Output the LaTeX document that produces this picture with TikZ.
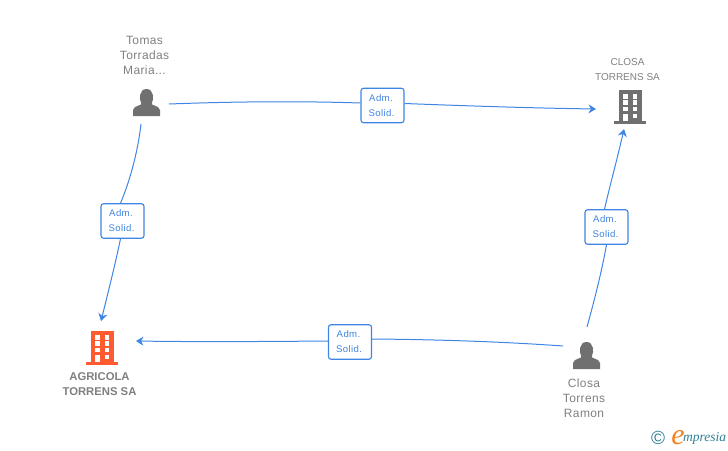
\documentclass[tikz,border=0pt]{standalone}
\usepackage{fontspec}
\setmainfont{Liberation Sans}
\newfontfamily\logofont{Liberation Serif}
\usetikzlibrary{arrows.meta}
\definecolor{linkblue}{HTML}{3F85E3}
\definecolor{icongray}{HTML}{707070}
\definecolor{textgray}{HTML}{808080}
\definecolor{iconred}{HTML}{FF5A30}
\definecolor{logoteal}{HTML}{2E7F95}
\definecolor{logoorange}{HTML}{F58220}
\newcommand{\roletext}{\raisebox{-1pt}{Adm.\kern3pt}\\\raisebox{-1pt}{Solid.\kern2pt}}
\tikzset{
  link/.style={draw=linkblue,line width=1pt},
  linkarrow/.style={link,-{Stealth[length=7.5pt,width=9pt]}},
  rolebox/.style={draw=linkblue,line width=1.1pt,rounded corners=2.5pt,fill=white,text=linkblue,
    minimum width=43pt,minimum height=34.5pt,inner sep=0pt,align=center,
    font=\fontsize{9.6}{15}\selectfont\addfontfeature{LetterSpace=4}},
  entity/.style={text=textgray,align=center,inner sep=0pt,
    font=\fontsize{12}{15}\selectfont\addfontfeature{LetterSpace=3}},
  company/.style={text=textgray,align=center,inner sep=0pt,font=\fontsize{10}{15}\selectfont},
  pics/person/.style={code={
    \fill[icongray] (-13.5,13.5) -- (-13.5,7.5) .. controls (-13.5,5) and (-11,4.2) .. (-5.5,2)
      -- (-5.5,0) .. controls (-7.5,-3) and (-7.5,-13.5) .. (0,-13.5)
      .. controls (7.5,-13.5) and (7.5,-3) .. (5.5,0) -- (5.5,2)
      .. controls (11,4.2) and (13.5,5) .. (13.5,7.5) -- (13.5,13.5) -- cycle;
  }},
  pics/building/.style={code={
    \fill[#1] (-11,-16.5) rectangle (11.5,15);
    \fill[#1] (-16,14.5) rectangle (16,17);
    \foreach \yy/\hh in {-12.2/4.7,-6.2/4.7,0/4.6}{
      \fill[white] (-6.7,\yy) rectangle (-2.3,\yy+\hh);
      \fill[white] (2.7,\yy) rectangle (7.3,\yy+\hh);
    }
    \fill[white] (-6.7,7.2) rectangle (-2.3,14.8);
    \fill[white] (2.7,7.2) rectangle (7.3,11.8);
  }}
}
\begin{document}
\begin{tikzpicture}[x=1pt,y=-1pt]
\useasboundingbox (0,0) rectangle (728,450);
% icons
\pic at (146.5,102.5) {person};
\pic at (586.5,355.5) {person};
\pic at (630,106.5) {building={icongray}};
\pic at (102,347.5) {building={iconred}};
% labels
\node[entity] (tomas) at (144.5,55.5) {Tomas\\Torradas\\Maria...};
\node[company] (closa) at (627.5,69.5) {CLOSA\\TORRENS SA};
\node[company,font=\fontsize{11.3}{15}\selectfont\bfseries] (agricola) at (99.5,384.5) {AGRICOLA\\TORRENS SA};
\node[entity] (ramon) at (584,398) {Closa\\Torrens\\Ramon};
% connector ends
\coordinate (tomasE) at (169,104);
\coordinate (tomasS) at (141,124);
\coordinate (closaW) at (596,109);
\coordinate (closaS) at (624,129);
\coordinate (agriN) at (101,321);
\coordinate (agriE) at (136,341);
\coordinate (ramonW) at (563,346);
\coordinate (ramonN) at (587,327);
% role boxes
\node[rolebox] (r1) at (382.5,105.5) {\roletext};
\node[rolebox] (r2) at (122.5,221) {\roletext};
\node[rolebox] (r3) at (350,342) {\roletext};
\node[rolebox] (r4) at (606.5,227) {\roletext};
% connectors
\draw[link] (tomasE) .. controls (235,101.5) and (300,101) .. ([yshift=2.5pt]r1.west);
\draw[linkarrow] ([yshift=2pt]r1.east) .. controls (470,106) and (530,108) .. (closaW);
\draw[link] (tomasS) .. controls (138,150) and (131,178) .. ([xshift=-2pt]r2.north);
\draw[linkarrow] ([xshift=-2pt]r2.south) .. controls (115,265) and (108,293) .. (agriN);
\draw[link] (ramonW) .. controls (500,341.5) and (435,339.5) .. ([yshift=3pt]r3.east);
\draw[linkarrow] ([yshift=1pt]r3.west) .. controls (270,341.5) and (200,342) .. (agriE);
\draw[link] (ramonN) .. controls (595,298) and (602,270) .. (r4.south);
\draw[linkarrow] ([xshift=-2pt]r4.north) .. controls (610,185) and (617,160) .. (closaS);
% logo
\node[inner sep=0pt,text=logoteal,font=\fontsize{19}{19}\selectfont] (copy) at (658,438) {©};
\node[inner sep=0pt,text=logoorange,font=\logofont\itshape\fontsize{30}{30}\selectfont] (logoe) at (678,438) {e};
\node[inner sep=0pt,text=logoteal,anchor=west,font=\logofont\itshape\fontsize{13.5}{13.5}\selectfont] (logot) at (683,438.5) {mpresia};
\end{tikzpicture}
\end{document}
